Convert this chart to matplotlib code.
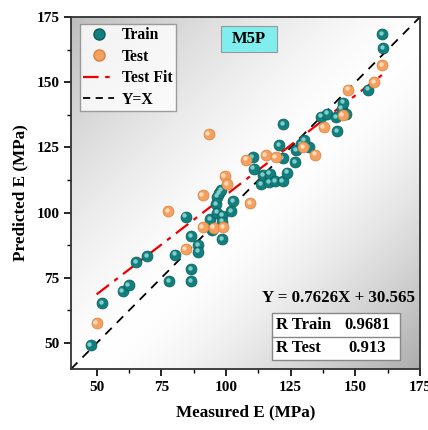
import numpy as np
import matplotlib
matplotlib.use("Agg")
import matplotlib.pyplot as plt
from matplotlib.transforms import offset_copy
from matplotlib.patches import Rectangle
from matplotlib.lines import Line2D

train_x = [47.6, 52.1, 60.0, 62.3, 65.3, 69.5, 78.1, 80.3, 84.4, 86.4, 86.5, 86.5,
           89.3, 89.3, 93.7, 94.4, 96.2, 96.6, 96.5, 97.2, 98.1, 98.5, 98.4, 98.4,
           101.9, 102.7, 110.3, 110.7, 113.7, 114.4, 116.7, 116.9, 119.1, 121.9,
           121.9, 123.6, 126.7, 127.2, 129.1, 131.9, 130.3, 120.6, 122.1, 136.8,
           139.1, 142.5, 143.0, 144.7, 145.3, 146.3, 154.9, 160.7, 160.3]
train_y = [49.1, 65.2, 69.9, 72.1, 81.1, 83.3, 73.8, 83.9, 98.5, 91.0, 78.2, 73.7,
           87.5, 85.0, 97.4, 93.5, 103.2, 100.0, 106.1, 107.6, 108.5, 98.8, 96.5, 89.7,
           100.6, 104.5, 121.3, 116.9, 110.8, 114.3, 111.8, 115.0, 112.0, 112.0,
           121.0, 115.3, 119.5, 124.0, 126.3, 125.2, 127.7, 125.9, 133.9, 136.8,
           138.0, 136.7, 131.3, 139.9, 142.2, 138.0, 147.2, 163.1, 168.4]

test_x = [49.9, 77.6, 84.4, 90.9, 90.9, 93.2, 95.2, 98.9, 99.4, 100.3, 107.8,
          109.4, 115.3, 119.2, 129.8, 134.6, 137.8, 145.1, 147.3, 157.4, 160.3]
test_y = [57.5, 100.5, 86.0, 106.7, 94.5, 130.2, 94.2, 94.4, 114.1, 110.9, 120.3,
          103.7, 122.0, 121.3, 125.2, 122.3, 132.8, 137.5, 147.2, 150.1, 156.5]

fit_slope = 0.7626
fit_intercept = 30.565
r_train = "0.9681"
r_test = "0.913"

xticks = [50, 75, 100, 125, 150, 175]
yticks = [50, 75, 100, 125, 150, 175]

plt.rcParams['font.family'] = ['Liberation Serif', 'DejaVu Serif']
plt.rcParams['font.weight'] = 'bold'

fig = plt.figure(figsize=(4.28, 4.30), dpi=100)
fig.patch.set_facecolor('white')
ax = fig.add_axes([0.166, 0.142, 0.815, 0.818])

# gradient background: light diagonal band, gray toward top-left / bottom-right corners
n = 300
gx, gy = np.meshgrid(np.linspace(0, 1, n), np.linspace(0, 1, n))
t = (gx - gy) / np.sqrt(2) / 0.707
t = t - 0.05
val = np.where(t < 0, 1.0 - 0.24 * np.abs(t) ** 1.4, 1.0 - 0.35 * np.clip(t, 0, 1) ** 1.5)
val = np.clip(val, 0.6, 1.0)
img = np.dstack([val, val, val])
ax.imshow(img, extent=[0, 1, 0, 1], transform=ax.transAxes, origin='lower',
          aspect='auto', zorder=0, interpolation='bilinear')

# y = x
ax.plot([40, 175], [40, 175], color='black', lw=1.3, dashes=(5, 4), zorder=2)
# test fit
fx = np.array([min(test_x), max(test_x)])
ax.plot(fx, fit_slope * fx + fit_intercept, color='#ee0000', lw=1.6,
        dashes=(7, 3, 2, 3), zorder=2)

ms = 62
teal = '#117f7d'
orange = '#f3a060'
hl = offset_copy(ax.transData, fig=fig, x=-1.3, y=1.3, units='dots')
ax.scatter(train_x, train_y, s=ms, color=teal, edgecolor='#0a5d5b', lw=0.5, zorder=3)
ax.scatter(train_x, train_y, s=10, color='#8fd6d2', lw=0, alpha=0.9, zorder=4, transform=hl)
ax.scatter(test_x, test_y, s=ms, color=orange, edgecolor='#d9823e', lw=0.5, zorder=5)
ax.scatter(test_x, test_y, s=10, color='#ffe3c6', lw=0, alpha=0.9, zorder=6, transform=hl)

ax.set_xlim(40, 175)
ax.set_ylim(40, 175)
ax.set_xticks(xticks)
ax.set_yticks(yticks)
ax.set_xticks([62.5, 87.5, 112.5, 137.5, 162.5], minor=True)
ax.set_yticks([62.5, 87.5, 112.5, 137.5, 162.5], minor=True)
ax.tick_params(which='major', direction='out', length=5, width=1.2, labelsize=11)
ax.tick_params(which='minor', direction='out', length=3, width=1.0)
for lab in ax.get_xticklabels() + ax.get_yticklabels():
    lab.set_fontweight('bold')
for s in ax.spines.values():
    s.set_linewidth(1.3)
    s.set_color('#333333')

ax.set_xlabel('Measured E (MPa)', fontsize=12.3, fontweight='bold', labelpad=8)
ax.set_ylabel('Predicted E (MPa)', fontsize=12.3, fontweight='bold', labelpad=6)

# legend
handles = [
    Line2D([], [], ls='none', marker='o', ms=8, color=teal, mec='#0a5d5b'),
    Line2D([], [], ls='none', marker='o', ms=8, color=orange, mec='#d9823e'),
    Line2D([], [], color='#ee0000', lw=1.6, dashes=(7, 3, 2, 3)),
    Line2D([], [], color='black', lw=1.3, dashes=(4, 3)),
]
leg = ax.legend(handles, ['Train', 'Test', 'Test Fit', 'Y=X'], loc='upper left',
                bbox_to_anchor=(0.026, 0.980), borderaxespad=0.0, frameon=True,
                fancybox=False, edgecolor='#888888', handlelength=1.95,
                handletextpad=0.5, labelspacing=0.35, borderpad=0.2,
                prop={'weight': 'bold', 'size': 11.3})
leg.get_frame().set_linewidth(1.0)
leg.set_zorder(10)

# M5P box
ax.add_patch(Rectangle((0.430, 0.901), 0.160, 0.073, transform=ax.transAxes,
                       facecolor='#80eeee', edgecolor='#999999', lw=0.8, zorder=9))
ax.text(0.51, 0.937, 'M5P', transform=ax.transAxes, ha='center', va='center',
        fontsize=12, fontweight='bold', zorder=10)

# equation
ax.text(0.768, 0.202, 'Y = %.4fX + %.3f' % (fit_slope, fit_intercept), transform=ax.transAxes,
        ha='center', va='center', fontsize=12.2, fontweight='bold', zorder=10)

# table
x0, x1 = 0.576, 0.943
yb, ym, yt = 0.026, 0.091, 0.159
ax.add_patch(Rectangle((x0, yb), x1 - x0, yt - yb, transform=ax.transAxes,
                       facecolor='white', edgecolor='#888888', lw=1.0, zorder=9))
ax.plot([x0, x1], [ym, ym], transform=ax.transAxes, color='#888888', lw=1.0, zorder=10)
ax.text(x0 + 0.011, (ym + yt) / 2, 'R Train', transform=ax.transAxes, ha='left', va='center',
        fontsize=12, fontweight='bold', zorder=11)
ax.text(0.848, (ym + yt) / 2, r_train, transform=ax.transAxes, ha='center', va='center',
        fontsize=12, fontweight='bold', zorder=11)
ax.text(x0 + 0.011, (yb + ym) / 2, 'R Test', transform=ax.transAxes, ha='left', va='center',
        fontsize=12, fontweight='bold', zorder=11)
ax.text(0.848, (yb + ym) / 2, r_test, transform=ax.transAxes, ha='center', va='center',
        fontsize=12, fontweight='bold', zorder=11)

fig.savefig('out.png', dpi=100)
